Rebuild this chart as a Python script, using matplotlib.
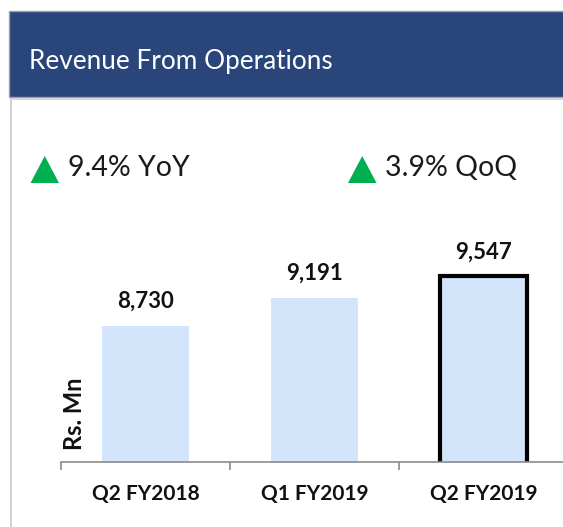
import matplotlib.pyplot as plt
from matplotlib.patches import Rectangle, Polygon
from matplotlib.lines import Line2D

# data
quarters = ['Q2 FY2018', 'Q1 FY2019', 'Q2 FY2019']
revenue = [8730, 9191, 9547]
growth_labels = ['9.4% YoY', '3.9% QoQ']

W, H = 563, 527
FONT = 'Lato'
NAVY = '#29457a'
BAR = '#d3e5fa'


def fx(x):
	return x / W

def fy(y):
	return 1 - y / H


fig = plt.figure(figsize=(W / 100, H / 100), dpi=100)

# header band
fig.patches.append(Rectangle((fx(9), fy(97)), fx(W - 9 + 5), 86 / H, transform=fig.transFigure,
	facecolor=NAVY, edgecolor='#a0a0a0', linewidth=1.0))
fig.text(fx(29), fy(62), 'Revenue From Operations', color='white', fontsize=18.8,
	family=FONT, va='center', ha='left')

# panel border
fig.lines.append(Line2D([fx(10.5), fx(10.5)], [fy(99), 0], transform=fig.transFigure,
	color='#c8c8c8', linewidth=1.2))
fig.lines.append(Line2D([fx(10.5), 1], [fy(99), fy(99)], transform=fig.transFigure,
	color='#d0d0d0', linewidth=1.2))

# growth callouts
for label, x0 in zip(growth_labels, [30.5, 348]):
	tri = Polygon([[fx(x0), fy(183)], [fx(x0 + 28.5), fy(183)], [fx(x0 + 14.25), fy(156)]],
		closed=True, transform=fig.transFigure, facecolor='#00b050', edgecolor='none')
	fig.patches.append(tri)
	fig.text(fx(x0 + 37), fy(168), label, color='#1a1a1a', fontsize=20.5,
		family=FONT, va='center', ha='left')

# bar chart
ax = fig.add_axes([fx(61), fy(462), 507 / W, 213.5 / H])
xs = list(range(len(quarters)))
bars = ax.bar(xs, revenue, width=0.515, color=BAR, edgecolor='none', zorder=2)
bars[-1].set_edgecolor('black')
bars[-1].set_linewidth(3)

for x, v in zip(xs, revenue):
	ax.annotate(f'{v:,}', (x, v), xytext=(0, 10), textcoords='offset points',
		ha='center', va='bottom', fontsize=16, fontweight='bold', family=FONT, color='#111111')

ax.set_xlim(-0.5, 2.5)
ax.set_ylim(6500, 10000)
ax.set_yticks([])
ax.set_xticks(xs)
ax.set_xticklabels(quarters, fontsize=15, fontweight='bold', family=FONT, color='#111111')
ax.set_xticks([-0.5, 0.5, 1.5, 2.5], minor=True)
ax.tick_params(axis='x', which='major', length=0, pad=16)
ax.tick_params(axis='x', which='minor', length=5.5, width=1.2, color='#8c8c8c')
for s in ['top', 'right', 'left']:
	ax.spines[s].set_visible(False)
ax.spines['bottom'].set_color('#8c8c8c')
ax.spines['bottom'].set_linewidth(1.2)
ax.patch.set_visible(False)

fig.text(fx(74), fy(414), 'Rs. Mn', rotation=90, fontsize=17, fontweight='bold',
	family=FONT, va='center', ha='center', color='#111111')

plt.savefig('out.png', dpi=100)
